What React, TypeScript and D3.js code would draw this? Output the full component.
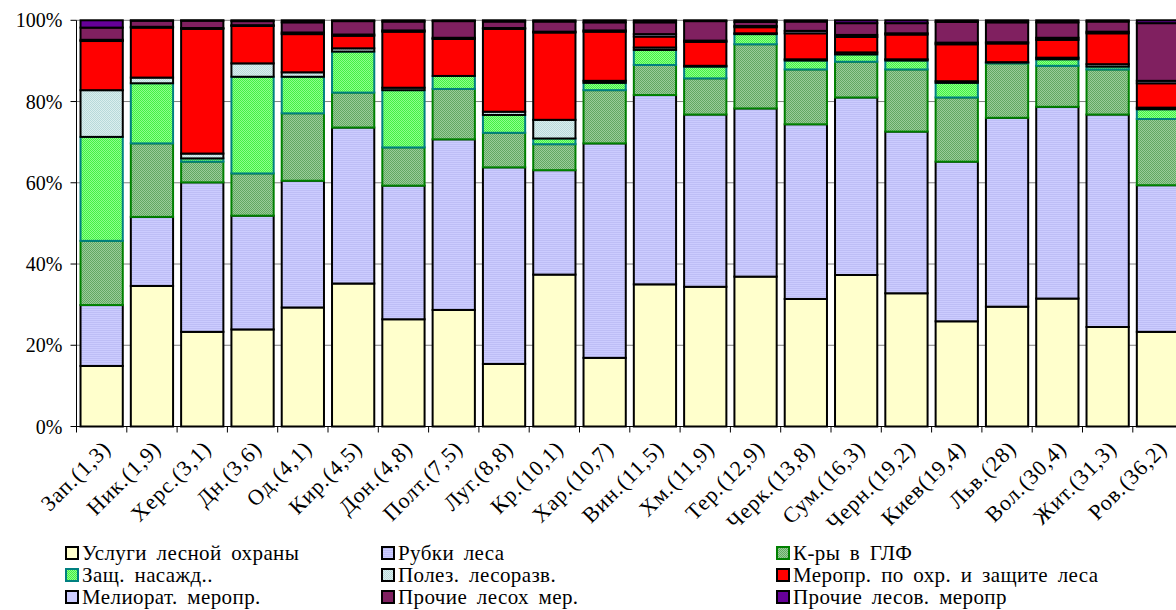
import React from "react";
import * as d3 from "d3";

// regions (with forest cover %), left to right
const categories = [
  "Зап.(1,3)", "Ник.(1,9)", "Херс.(3,1)", "Дн.(3,6)", "Од.(4,1)", "Кир.(4,5)",
  "Дон.(4,8)", "Полт.(7,5)", "Луг.(8,8)", "Кр.(10,1)", "Хар.(10,7)", "Вин.(11,5)",
  "Хм.(11,9)", "Тер.(12,9)", "Черк.(13,8)", "Сум.(16,3)", "Черн.(19,2)", "Киев(19,4)",
  "Льв.(28)", "Вол.(30,4)", "Жит.(31,3)", "Ров.(36,2)",
];

// shares, % (bottom to top of each bar)
const uslugi = [14.9, 34.6, 23.3, 23.9, 29.3, 35.2, 26.4, 28.7, 15.4, 37.4, 16.9, 35.0, 34.4, 36.9, 31.4, 37.3, 32.8, 25.9, 29.5, 31.5, 24.5, 23.3];
const rubki = [15.0, 17.0, 36.8, 28.0, 31.2, 38.4, 32.9, 42.0, 48.4, 25.7, 52.8, 46.6, 42.4, 41.4, 43.0, 43.7, 39.8, 39.3, 46.5, 47.2, 52.3, 36.1];
const kry = [15.8, 18.1, 5.1, 10.4, 16.6, 8.6, 9.4, 12.4, 8.5, 6.4, 13.1, 7.4, 8.9, 15.8, 13.5, 8.8, 15.3, 15.8, 13.4, 10.1, 11.1, 16.3];
const zasch = [25.6, 14.8, 0.8, 23.8, 9.0, 10.1, 14.1, 3.2, 4.4, 1.4, 1.8, 3.7, 2.9, 2.5, 2.2, 1.8, 2.2, 3.6, 0.2, 1.6, 0.7, 2.4];
const polez = [11.5, 1.4, 1.2, 3.3, 1.1, 0.8, 0.6, 0.0, 0.8, 4.6, 0.5, 0.6, 0.2, 0.2, 0.3, 0.5, 0.3, 0.4, 0.1, 0.4, 0.6, 0.4];
const meropr = [12.1, 12.3, 30.7, 9.2, 9.4, 3.1, 13.8, 9.1, 20.4, 21.5, 12.1, 2.7, 5.9, 1.5, 6.4, 3.8, 6.1, 9.1, 4.6, 4.4, 7.6, 6.0];
const meliorat = [0.3, 0.2, 0.2, 0.2, 0.4, 0.3, 0.3, 0.3, 0.2, 0.2, 0.3, 0.6, 0.3, 0.3, 0.6, 0.5, 0.3, 0.4, 0.3, 0.5, 0.4, 0.6];
const prochieLesoh = [3.0, 1.5, 1.8, 1.0, 2.5, 3.3, 2.2, 4.1, 1.6, 2.5, 2.0, 2.9, 4.8, 1.0, 2.3, 2.9, 2.5, 5.1, 4.9, 3.8, 2.5, 14.2];
const prochieLesov = [1.8, 0.1, 0.1, 0.2, 0.5, 0.2, 0.3, 0.2, 0.3, 0.3, 0.5, 0.5, 0.2, 0.4, 0.3, 0.7, 0.7, 0.4, 0.5, 0.5, 0.3, 0.7];

const seriesNames = [
  "Услуги лесной охраны", "Рубки леса", "К-ры в ГЛФ",
  "Защ. насажд..", "Полез. лесоразв.", "Меропр. по охр. и защите леса",
  "Мелиорат. меропр.", "Прочие лесох мер.", "Прочие лесов. меропр",
];
const seriesValues = [uslugi, rubki, kry, zasch, polez, meropr, meliorat, prochieLesoh, prochieLesov];
const yTicks = [0, 20, 40, 60, 80, 100];

const fills = [
  "#FFFFCC", "url(#pRubki)", "url(#pKry)",
  "url(#pZasch)", "url(#pPolez)", "#FF0000",
  "#CCCCFF", "#802060", "#660099",
];
const strokes = ["#000", "#000", "#008000", "#008080", "#000", "#000", "#000", "#000", "#000"];

const W = 1176;
const H = 610;
const FONT = "'Liberation Serif', 'Times New Roman', Times, serif";

export default function App() {
  const x = d3
    .scaleBand<string>()
    .domain(categories)
    .range([76.5, 76.5 + categories.length * 50.3])
    .paddingInner(0.16)
    .paddingOuter(0.08);
  const y = d3.scaleLinear().domain([0, 100]).range([426.5, 20.3]);

  const rows = categories.map((c, i) => {
    const r: any = { cat: c };
    seriesNames.forEach((s, j) => (r[s] = seriesValues[j][i]));
    return r;
  });
  const stacked = d3.stack<any>().keys(seriesNames)(rows);

  const step = x.step();
  const x0 = x.range()[0];
  const boundaries = d3.range(categories.length + 1).map((i) => x0 + i * step);

  return (
    <svg
      width={W}
      height={H}
      style={{ position: "absolute", left: 0, top: 0, background: "#fff", fontFamily: FONT }}
    >
      <defs>
        <pattern id="pRubki" width="4" height="2" patternUnits="userSpaceOnUse">
          <rect width="4" height="2" fill="#CCCCFF" />
          <rect width="4" height="1" fill="#BEBEF6" />
        </pattern>
        <pattern id="pKry" width="2" height="2" patternUnits="userSpaceOnUse">
          <rect width="2" height="2" fill="#9ACC9A" />
          <rect width="1" height="1" fill="#62A862" />
          <rect x="1" y="1" width="1" height="1" fill="#62A862" />
        </pattern>
        <pattern id="pZasch" width="2" height="2" patternUnits="userSpaceOnUse">
          <rect width="2" height="2" fill="#8CFF8C" />
          <rect width="1" height="1" fill="#44F044" />
          <rect x="1" y="1" width="1" height="1" fill="#44F044" />
        </pattern>
        <pattern id="pPolez" width="2" height="2" patternUnits="userSpaceOnUse">
          <rect width="2" height="2" fill="#DCEEEE" />
          <rect width="1" height="1" fill="#B8DADA" />
          <rect x="1" y="1" width="1" height="1" fill="#B8DADA" />
        </pattern>
      </defs>

      {/* gridlines behind bars */}
      {yTicks.slice(1).map((t) => (
        <line key={t} x1={x0} x2={W} y1={y(t)} y2={y(t)} stroke="#808080" strokeWidth={1} />
      ))}

      {/* bars */}
      {stacked.map((layer, j) => (
        <g key={layer.key}>
          {layer.map((d, i) => {
            const h = y(d[0]) - y(d[1]);
            if (h <= 0) return null;
            return (
              <rect
                key={i}
                x={x(categories[i])}
                y={y(d[1])}
                width={x.bandwidth()}
                height={h}
                fill={fills[j]}
                stroke={strokes[j]}
                strokeWidth={2}
              />
            );
          })}
        </g>
      ))}

      {/* axes */}
      <line x1={x0} x2={x0} y1={y(100)} y2={y(0)} stroke="#000" />
      <line x1={x0} x2={W} y1={y(0)} y2={y(0)} stroke="#000" />
      {yTicks.map((t) => (
        <g key={t}>
          <line x1={x0 - 6} x2={x0} y1={y(t)} y2={y(t)} stroke="#000" />
          <text x={x0 - 14} y={y(t)} dy="0.35em" textAnchor="end" style={{ fontSize: "20px" }}>
            {t}%
          </text>
        </g>
      ))}
      {boundaries.map((b, i) => (
        <line key={i} x1={b} x2={b} y1={y(0)} y2={y(0) + 6} stroke="#000" />
      ))}
      {categories.map((c) => {
        const cx = (x(c) ?? 0) + x.bandwidth() / 2;
        return (
          <text
            key={c}
            transform={`translate(${cx + 5},${y(0) + 18}) rotate(-45)`}
            textAnchor="end"
            dy="0.35em"
            style={{ fontSize: "22px", letterSpacing: "0.9px" }}
          >
            {c}
          </text>
        );
      })}

      {/* legend */}
      {seriesNames.map((s, j) => {
        const col = j % 3;
        const row = Math.floor(j / 3);
        const lx = [66, 382, 777][col];
        const ly = 553 + row * 22;
        return (
          <g key={s}>
            <rect
              x={lx}
              y={ly - 6}
              width={12}
              height={12}
              fill={j === 6 ? "#CCCCFF" : fills[j]}
              stroke={strokes[j]}
              strokeWidth={2}
            />
            <text
              x={lx + 16}
              y={ly}
              dy="0.35em"
              style={{ fontSize: "21px", letterSpacing: "0.4px", wordSpacing: "4px" }}
            >
              {s}
            </text>
          </g>
        );
      })}
    </svg>
  );
}
